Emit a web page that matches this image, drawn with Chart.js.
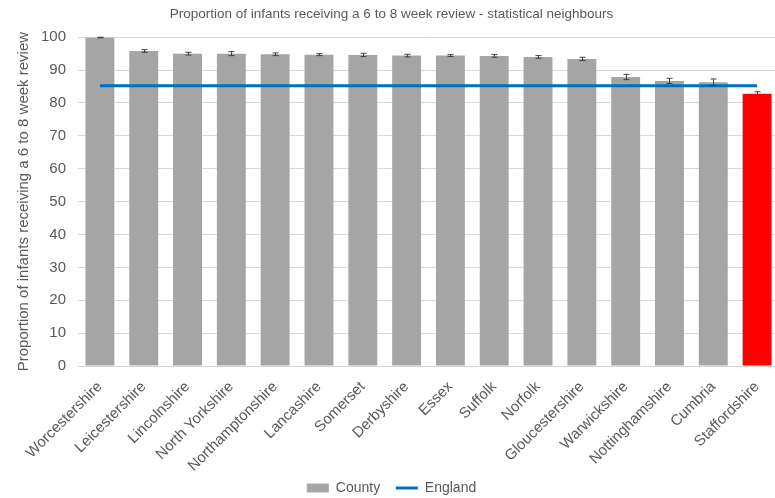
<!DOCTYPE html>
<html><head><meta charset="utf-8">
<script src="https://cdn.jsdelivr.net/npm/chart.js@4.4.1/dist/chart.umd.min.js"></script>
<style>html,body{margin:0;padding:0;overflow:hidden;background:#fff;width:775px;height:498px}canvas{display:block}</style>
</head><body>
<canvas id="c" width="779" height="498"></canvas>
<script>
const categories = ["Worcestershire","Leicestershire","Lincolnshire","North Yorkshire","Northamptonshire","Lancashire","Somerset","Derbyshire","Essex","Suffolk","Norfolk","Gloucestershire","Warwickshire","Nottinghamshire","Cumbria","Staffordshire"];
const countyValues = [99.9, 95.8, 95.0, 95.0, 94.8, 94.7, 94.6, 94.4, 94.4, 94.3, 94.0, 93.4, 87.9, 86.7, 86.3, 82.8];
const errorLow  = [99.8, 95.4, 94.6, 94.4, 94.4, 94.4, 94.1, 94.0, 94.1, 93.9, 93.6, 92.9, 87.1, 85.9, 85.3, 82.2];
const errorHigh = [100.0, 96.2, 95.4, 95.6, 95.2, 95.0, 95.1, 94.8, 94.7, 94.7, 94.4, 93.9, 88.7, 87.5, 87.3, 83.4];
const englandValue = 85.2;
const englandValues = categories.map(() => englandValue);
const yTicks = [0,10,20,30,40,50,60,70,80,90,100];

const errorBars = {
  id: 'errorBars',
  afterDatasetsDraw(chart) {
    const meta = chart.getDatasetMeta(0);
    const y = chart.scales.y;
    const ctx = chart.ctx;
    ctx.save();
    ctx.strokeStyle = '#404040';
    ctx.lineWidth = 1;
    meta.data.forEach((bar, i) => {
      const x = Math.round(bar.x) + 0.5;
      const y1 = y.getPixelForValue(errorLow[i]);
      const y2 = y.getPixelForValue(errorHigh[i]);
      ctx.beginPath();
      ctx.moveTo(x, y1); ctx.lineTo(x, y2);
      ctx.moveTo(x - 3, y1); ctx.lineTo(x + 3, y1);
      ctx.moveTo(x - 3, y2); ctx.lineTo(x + 3, y2);
      ctx.stroke();
    });
    ctx.restore();
  }
};

const font = 'Liberation Sans';
new Chart(document.getElementById('c'), {
  data: {
    labels: categories,
    datasets: [
      { type: 'bar', label: 'County', data: countyValues, order: 1,
        backgroundColor: categories.map(c => c === 'Staffordshire' ? '#FF0000' : '#A5A5A5'),
        categoryPercentage: 0.66, barPercentage: 1.0,
        pointStyle: 'rect' },
      { type: 'line', label: 'England', data: englandValues, order: 0,
        borderColor: '#0070C0', backgroundColor: '#0070C0', borderWidth: 3,
        pointRadius: 0, pointStyle: 'line', fill: false }
    ]
  },
  options: {
    responsive: false,
    animation: false,
    layout: { padding: { left: 4, right: 0, top: 0, bottom: -7 } },
    plugins: {
      title: { display: true, text: 'Proportion of infants receiving a 6 to 8 week review - statistical neighbours',
        color: '#595959', font: { family: font, size: 13.5, weight: 'normal' }, padding: { top: 6, bottom: 15 } },
      legend: { position: 'bottom',
        labels: { usePointStyle: true, pointStyleWidth: 22, boxHeight: 9, color: '#595959',
          font: { family: font, size: 14 }, padding: 4,
          sort: (a, b) => a.datasetIndex - b.datasetIndex,
          generateLabels(chart) {
            const items = Chart.defaults.plugins.legend.labels.generateLabels(chart);
            items.forEach(it => {
              if (it.datasetIndex === 0) { it.fillStyle = '#A5A5A5'; it.strokeStyle = '#A5A5A5'; it.lineWidth = 0; it.pointStyle = 'rect'; it.text = it.text + '   '; }
              else { it.lineWidth = 3; it.strokeStyle = '#0070C0'; it.pointStyle = 'line'; }
            });
            return items;
          } } },
      tooltip: { enabled: false }
    },
    scales: {
      x: { grid: { display: false, drawTicks: false }, border: { color: '#D9D9D9' },
        ticks: { color: '#595959', font: { family: font, size: 15 }, minRotation: 45, maxRotation: 45, padding: 12 },
        afterFit(axis) { axis.height = 111; axis.paddingLeft = 0; axis.paddingRight = 0; } },
      y: { min: 0, max: 100, grid: { color: '#D9D9D9', drawTicks: false }, border: { display: false },
        afterBuildTicks(axis) { axis.ticks = yTicks.map(v => ({ value: v })); },
        afterFit(axis) { axis.width = 74; },
        ticks: { color: '#595959', font: { family: font, size: 15 }, padding: 12 },
        title: { display: true, text: 'Proportion of infants receiving a 6 to 8 week review',
          color: '#595959', font: { family: font, size: 15 }, padding: { top: 11, bottom: 8 } } }
    }
  },
  plugins: [errorBars]
});
</script>
</body></html>
